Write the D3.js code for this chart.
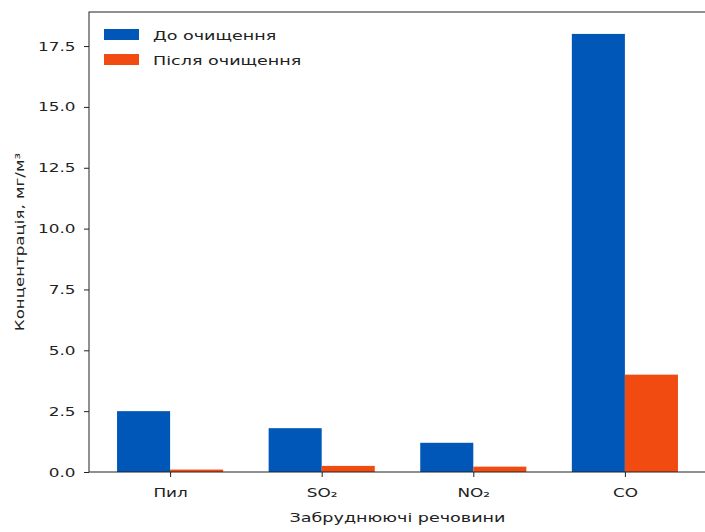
<!DOCTYPE html>
<html lang="uk">
<head>
  <meta charset="UTF-8" />
  <script src="https://d3js.org/d3.v7.min.js"></script>
  <style>
    body { margin: 0; background: #fff; }
    text { font-family: "DejaVu Sans", sans-serif; fill: #222; }
  </style>
</head>
<body>
  <div id="scene"></div>
  <script>
    const categories = ["Пил", "SO₂", "NO₂", "CO"];
    const seriesNames = ["До очищення", "Після очищення"];
    const before = [2.5, 1.8, 1.2, 18.0];
    const after = [0.1, 0.25, 0.22, 4.0];
    const yTicks = [0, 2.5, 5, 7.5, 10, 12.5, 15, 17.5];
    const colors = ["#0057b7", "#f24b12"];

    const W = 705, H = 532;
    const margin = { top: 12, left: 89, right: -1, bottom: 60 };
    const w = W - margin.left - margin.right, h = H - margin.top - margin.bottom;
    const stretch = 1.35; // the text in the picture is wide

    const svg = d3.select("#scene").append("svg").attr("width", W).attr("height", H);
    const g = svg.append("g").attr("transform", `translate(${margin.left},${margin.top})`);

    const barW = 0.35;
    const x = d3.scaleLinear().domain([-0.535, 3.535]).range([0, w]);
    const y = d3.scaleLinear().domain([0, 18.9]).range([h, 0]);

    const series = [before, after];
    series.forEach((vals, si) => {
      g.selectAll(".bar" + si)
        .data(vals).enter().append("rect")
        .attr("x", (d, i) => x(i + (si === 0 ? -barW : 0)))
        .attr("y", d => y(d))
        .attr("width", x(barW) - x(0))
        .attr("height", d => y(0) - y(d))
        .attr("fill", colors[si]);
    });

    // axes
    const yAxis = g.append("g").call(d3.axisLeft(y).tickValues(yTicks).tickFormat(d3.format(".1f")).tickSize(5).tickPadding(5));
    const xAxis = g.append("g").attr("transform", `translate(0,${h})`)
      .call(d3.axisBottom(x).tickValues(d3.range(categories.length)).tickFormat(i => categories[i]).tickSize(5).tickPadding(11));
    [yAxis, xAxis].forEach(a => {
      a.selectAll("text").attr("font-size", 12.5).attr("font-family", "DejaVu Sans, sans-serif")
        .attr("fill", "#222").attr("transform", `scale(${stretch},1)`);
      a.selectAll("line").attr("stroke", "#222");
      a.select(".domain").remove();
    });

    // spines
    g.append("rect").attr("x", 0).attr("y", 0).attr("width", w).attr("height", h)
      .attr("fill", "none").attr("stroke", "#222").attr("stroke-width", 1);

    // axis labels
    svg.append("text")
      .attr("transform", `translate(24,${margin.top + h / 2}) rotate(-90) scale(1.28,1)`)
      .attr("text-anchor", "middle").attr("font-size", 13)
      .text("Концентрація, мг/м³");
    svg.append("text")
      .attr("transform", `translate(${margin.left + w / 2},522) scale(${stretch},1)`)
      .attr("text-anchor", "middle").attr("font-size", 13)
      .text("Забруднюючі речовини");

    // legend
    const lg = svg.append("g").attr("transform", "translate(104,29)");
    seriesNames.forEach((name, i) => {
      lg.append("rect").attr("x", 0).attr("y", i * 25).attr("width", 35).attr("height", 11).attr("fill", colors[i]);
      lg.append("text").attr("transform", `translate(49,${i * 25 + 11}) scale(${stretch},1)`)
        .attr("font-size", 13).text(name);
    });
  </script>
</body>
</html>
